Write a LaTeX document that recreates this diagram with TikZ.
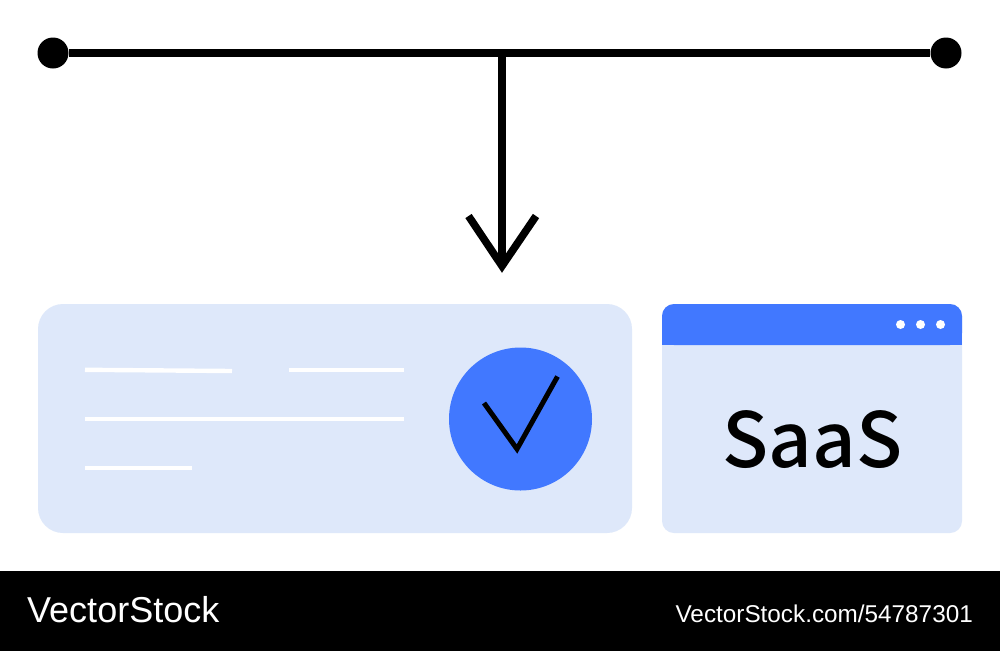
\documentclass[tikz,border=0pt]{standalone}
\usepackage{fontspec}
\setmainfont{Liberation Sans}
\newfontfamily\saasfont[UprightFont=* Medium]{Noto Sans CJK JP}
\definecolor{paleblue}{HTML}{DEE8FA}
\definecolor{vivid}{HTML}{4178FF}
\tikzset{
  panel/.style={fill=paleblue,draw=none},
  dotend/.style={circle,fill=black,draw=none,minimum size=31pt,inner sep=0pt},
  stem/.style={draw=black,line width=7.6pt},
  whiteline/.style={draw=white,line width=4.4pt},
  winDot/.style={circle,fill=white,draw=none,minimum size=9pt,inner sep=0pt},
}
\begin{document}
\begin{tikzpicture}[x=1pt,y=-1pt]
\useasboundingbox (0,0) rectangle (1000,651);
\fill[white] (0,0) rectangle (1000,651);
% connectors
\node[dotend] (left) at (53,53) {};
\node[dotend] (right) at (946,53) {};
\coordinate (junction) at (502,53);
\coordinate (tip) at (502,266);
\coordinate (headL) at (468.5,216);
\coordinate (headR) at (536,216);
\draw[stem] (left) -- (right);
\draw[stem] (junction) -- (tip);
\draw[stem,miter limit=10] (headL) -- (tip) -- (headR);
% left panel
\fill[panel,rounded corners=25pt] (38,304) rectangle (632,533);
\draw[whiteline] (85,369.8) -- (232,371);
\draw[whiteline] (289,369.8) -- (404,369.8);
\draw[whiteline] (85,419) -- (404,419);
\draw[whiteline] (85,468) -- (192,468);
\node[circle,fill=vivid,draw=none,minimum size=143pt,inner sep=0pt] (badge) at (520.5,419) {};
\draw[black,line width=5pt,miter limit=10] (484,403) -- (517,449) -- (557.5,376.5);
% right panel
\fill[panel,rounded corners=12pt] (662,304) rectangle (962,533);
\fill[vivid,rounded corners=12pt] (662,345) -- (662,304) -- (962,304) -- (962,345) -- cycle;
\fill[vivid] (662,330) rectangle (962,345);
\node[winDot] (d1) at (900.5,324.5) {};
\node[winDot] (d2) at (920.5,324.5) {};
\node[winDot] (d3) at (940.5,324.5) {};
\node[anchor=base,inner sep=0pt,text=black] (saas) at (812.5,467) {\saasfont\fontsize{76}{80}\selectfont SaaS};
% footer
\fill[black] (0,571) rectangle (1000,651);
\node[anchor=base west,inner sep=0pt,text=white] (brand) at (27,622) {\fontsize{36}{38}\selectfont VectorStock};
\node[anchor=base east,inner sep=0pt,text=white] (url) at (973,622) {\fontsize{24.3}{26}\selectfont VectorStock.com/54787301};
\end{tikzpicture}
\end{document}
